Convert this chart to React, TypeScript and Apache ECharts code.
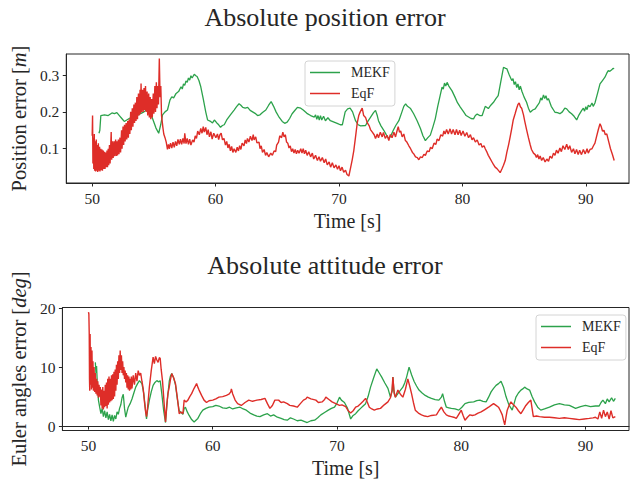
import React, { useEffect, useRef } from "react";
import * as echarts from "echarts";

const xTicks = [50, 60, 70, 80, 90];
const posTicks = [0.1, 0.2, 0.3];
const attTicks = [0, 10, 20];
const seriesNames = ["MEKF", "EqF"];

const posMEKF: [number, number][] = [
  [50.55,0.142],[50.62,0.15],[50.7,0.19],[51.0,0.192],[51.3,0.19],[51.6,0.197],[51.8,0.195],[52.0,0.198],[52.2,0.19],[52.4,0.182],[52.6,0.174],[52.8,0.178],[53.0,0.182],[53.3,0.188],[53.6,0.19],[53.96,0.196],[54.2,0.2],[54.37,0.205],[54.6,0.198],[54.8,0.19],[55.0,0.172],[55.17,0.156],[55.39,0.142],[55.55,0.165],[55.7,0.192],[55.9,0.2],[56.1,0.205],[56.3,0.232],[56.45,0.241],[56.6,0.238],[56.8,0.25],[57.0,0.255],[57.2,0.268],[57.3,0.262],[57.4,0.276],[57.5,0.272],[57.6,0.284],[57.7,0.28],[57.8,0.292],[57.9,0.286],[58.0,0.298],[58.1,0.292],[58.27,0.302],[58.4,0.298],[58.5,0.296],[58.65,0.285],[58.8,0.268],[59.0,0.235],[59.2,0.2],[59.35,0.178],[59.55,0.175],[59.75,0.17],[59.9,0.178],[60.1,0.17],[60.25,0.165],[60.4,0.158],[60.55,0.163],[60.7,0.165],[60.9,0.178],[61.2,0.192],[61.5,0.205],[61.7,0.214],[61.9,0.222],[62.05,0.218],[62.2,0.212],[62.4,0.21],[62.6,0.212],[62.8,0.204],[63.0,0.2],[63.2,0.196],[63.4,0.19],[63.6,0.192],[63.8,0.198],[64.07,0.205],[64.3,0.218],[64.5,0.228],[64.7,0.215],[64.9,0.2],[65.1,0.188],[65.4,0.174],[65.6,0.169],[65.8,0.172],[66.0,0.182],[66.2,0.195],[66.4,0.203],[66.63,0.212],[66.9,0.21],[67.1,0.205],[67.4,0.196],[67.7,0.19],[68.0,0.186],[68.1,0.192],[68.2,0.18],[68.3,0.19],[68.4,0.178],[68.5,0.19],[68.6,0.178],[68.75,0.188],[68.9,0.176],[69.1,0.184],[69.3,0.176],[69.6,0.172],[69.9,0.168],[70.1,0.165],[70.27,0.165],[70.5,0.2],[70.7,0.208],[70.9,0.21],[71.1,0.2],[71.34,0.176],[71.55,0.165],[71.75,0.162],[72.15,0.163],[72.35,0.175],[72.55,0.185],[72.8,0.198],[72.96,0.204],[73.1,0.19],[73.2,0.176],[73.4,0.162],[73.63,0.15],[73.85,0.137],[74.04,0.127],[74.2,0.135],[74.4,0.15],[74.6,0.163],[74.85,0.176],[75.1,0.2],[75.25,0.215],[75.4,0.222],[75.55,0.215],[75.8,0.209],[76.05,0.195],[76.33,0.176],[76.6,0.155],[76.8,0.135],[77.0,0.122],[77.2,0.13],[77.4,0.137],[77.6,0.158],[77.8,0.181],[78.0,0.215],[78.2,0.245],[78.35,0.267],[78.45,0.262],[78.55,0.278],[78.65,0.27],[78.76,0.28],[78.9,0.27],[79.16,0.257],[79.4,0.24],[79.6,0.225],[79.83,0.213],[80.1,0.2],[80.3,0.19],[80.5,0.186],[80.7,0.182],[80.9,0.181],[81.05,0.19],[81.2,0.194],[81.4,0.19],[81.6,0.19],[81.85,0.215],[82.1,0.209],[82.3,0.218],[82.52,0.226],[82.7,0.235],[82.9,0.244],[83.1,0.28],[83.33,0.321],[83.5,0.318],[83.6,0.317],[83.8,0.3],[84.0,0.285],[84.1,0.29],[84.2,0.274],[84.3,0.282],[84.4,0.266],[84.5,0.276],[84.6,0.26],[84.7,0.27],[84.82,0.256],[85.0,0.24],[85.2,0.226],[85.35,0.21],[85.5,0.199],[85.7,0.205],[85.9,0.208],[86.1,0.218],[86.25,0.226],[86.35,0.238],[86.45,0.232],[86.57,0.246],[86.67,0.236],[86.77,0.244],[86.87,0.232],[86.97,0.236],[87.2,0.215],[87.5,0.199],[87.7,0.198],[87.9,0.195],[88.1,0.2],[88.3,0.21],[88.45,0.208],[88.65,0.2],[88.85,0.195],[89.05,0.188],[89.26,0.178],[89.45,0.192],[89.67,0.204],[89.8,0.21],[89.9,0.202],[90.0,0.214],[90.1,0.206],[90.2,0.218],[90.34,0.214],[90.5,0.224],[90.6,0.215],[90.74,0.224],[90.95,0.25],[91.15,0.276],[91.35,0.285],[91.55,0.294],[91.7,0.305],[91.82,0.312],[91.95,0.31],[92.1,0.314],[92.2,0.318],[92.3,0.317]
];

const posEqF: [number, number][] = [
  [50.0,0.135],[50.03,0.19],[50.06,0.06],[50.1,0.13],[50.13,0.045],[50.17,0.14],[50.2,0.04],[50.25,0.12],[50.28,0.038],[50.33,0.125],[50.36,0.04],[50.42,0.11],[50.45,0.037],[50.5,0.115],[50.54,0.04],[50.6,0.105],[50.63,0.038],[50.7,0.1],[50.73,0.042],[50.8,0.098],[50.83,0.04],[50.9,0.095],[50.94,0.045],[51.0,0.092],[51.04,0.045],[51.1,0.09],[51.14,0.05],[51.2,0.095],[51.24,0.05],[51.3,0.1],[51.34,0.055],[51.4,0.11],[51.45,0.06],[51.54,0.145],[51.58,0.07],[51.65,0.12],[51.7,0.075],[51.78,0.12],[51.82,0.08],[51.9,0.125],[51.95,0.08],[52.0,0.12],[52.05,0.082],[52.12,0.125],[52.17,0.085],[52.25,0.13],[52.3,0.09],[52.38,0.15],[52.42,0.1],[52.5,0.16],[52.55,0.11],[52.62,0.165],[52.67,0.12],[52.75,0.17],[52.8,0.125],[52.88,0.175],[52.93,0.13],[53.0,0.18],[53.05,0.14],[53.12,0.2],[53.17,0.15],[53.25,0.21],[53.3,0.16],[53.38,0.22],[53.43,0.17],[53.5,0.225],[53.55,0.175],[53.62,0.24],[53.67,0.18],[53.75,0.25],[53.8,0.19],[53.88,0.26],[53.92,0.195],[53.96,0.277],[54.0,0.2],[54.08,0.26],[54.13,0.2],[54.2,0.265],[54.25,0.205],[54.32,0.27],[54.37,0.2],[54.45,0.255],[54.5,0.19],[54.58,0.25],[54.63,0.185],[54.7,0.24],[54.75,0.18],[54.82,0.235],[54.87,0.185],[54.95,0.25],[55.0,0.195],[55.08,0.27],[55.13,0.2],[55.2,0.28],[55.25,0.21],[55.32,0.27],[55.37,0.22],[55.44,0.345],[55.5,0.24],[55.56,0.27],[55.62,0.19],[55.72,0.16],[55.8,0.14],[55.9,0.13],[56.0,0.118],[56.1,0.098],[56.18,0.112],[56.25,0.1],[56.35,0.115],[56.45,0.102],[56.55,0.118],[56.65,0.104],[56.75,0.12],[56.85,0.108],[56.95,0.125],[57.06,0.112],[57.15,0.126],[57.25,0.112],[57.35,0.128],[57.45,0.114],[57.5,0.142],[57.6,0.114],[57.7,0.128],[57.8,0.112],[57.9,0.126],[58.0,0.11],[58.14,0.124],[58.25,0.118],[58.35,0.135],[58.45,0.128],[58.55,0.148],[58.68,0.138],[58.8,0.155],[58.9,0.142],[59.0,0.16],[59.08,0.145],[59.2,0.158],[59.3,0.138],[59.4,0.152],[59.5,0.132],[59.62,0.146],[59.72,0.126],[59.85,0.142],[60.02,0.13],[60.15,0.14],[60.25,0.125],[60.35,0.138],[60.45,0.142],[60.56,0.124],[60.68,0.128],[60.8,0.11],[60.9,0.12],[61.0,0.102],[61.1,0.112],[61.2,0.094],[61.3,0.106],[61.4,0.09],[61.5,0.1],[61.64,0.09],[61.75,0.104],[61.85,0.094],[61.95,0.108],[62.05,0.098],[62.15,0.115],[62.3,0.108],[62.4,0.124],[62.5,0.114],[62.58,0.128],[62.7,0.118],[62.82,0.134],[62.95,0.122],[63.05,0.138],[63.12,0.124],[63.25,0.132],[63.35,0.116],[63.52,0.118],[63.6,0.1],[63.7,0.108],[63.8,0.09],[63.93,0.098],[64.05,0.082],[64.15,0.09],[64.3,0.078],[64.47,0.088],[64.6,0.082],[64.74,0.094],[64.87,0.092],[64.95,0.11],[65.1,0.118],[65.2,0.135],[65.35,0.13],[65.45,0.145],[65.55,0.132],[65.65,0.138],[65.75,0.118],[65.85,0.115],[65.95,0.102],[66.05,0.108],[66.15,0.092],[66.25,0.1],[66.35,0.088],[66.45,0.098],[66.55,0.086],[66.65,0.096],[66.76,0.088],[66.9,0.1],[67.0,0.088],[67.1,0.1],[67.2,0.086],[67.3,0.096],[67.42,0.082],[67.55,0.092],[67.7,0.078],[67.84,0.088],[67.95,0.072],[68.1,0.082],[68.25,0.068],[68.38,0.078],[68.5,0.066],[68.65,0.076],[68.8,0.062],[68.92,0.072],[69.05,0.056],[69.2,0.064],[69.32,0.05],[69.46,0.062],[69.6,0.048],[69.75,0.056],[69.88,0.044],[70.0,0.054],[70.12,0.04],[70.25,0.05],[70.38,0.036],[70.53,0.042],[70.65,0.03],[70.8,0.026],[70.95,0.05],[71.07,0.07],[71.2,0.095],[71.35,0.135],[71.48,0.17],[71.6,0.19],[71.72,0.2],[71.88,0.21],[72.0,0.19],[72.15,0.185],[72.3,0.17],[72.45,0.162],[72.55,0.152],[72.7,0.145],[72.85,0.138],[72.96,0.128],[73.1,0.14],[73.2,0.13],[73.35,0.145],[73.5,0.132],[73.6,0.144],[73.75,0.128],[73.9,0.136],[74.04,0.122],[74.15,0.138],[74.3,0.13],[74.45,0.145],[74.58,0.132],[74.7,0.148],[74.8,0.16],[74.9,0.145],[75.0,0.148],[75.12,0.132],[75.25,0.14],[75.38,0.122],[75.5,0.118],[75.66,0.108],[75.8,0.1],[75.95,0.09],[76.06,0.086],[76.2,0.078],[76.35,0.076],[76.47,0.07],[76.6,0.078],[76.75,0.076],[76.88,0.085],[77.0,0.082],[77.15,0.094],[77.3,0.092],[77.42,0.104],[77.55,0.1],[77.7,0.115],[77.85,0.112],[77.95,0.126],[78.1,0.122],[78.25,0.138],[78.4,0.134],[78.5,0.148],[78.6,0.14],[78.72,0.152],[78.85,0.14],[79.0,0.154],[79.12,0.14],[79.25,0.152],[79.4,0.138],[79.52,0.152],[79.65,0.138],[79.78,0.15],[79.9,0.136],[80.05,0.148],[80.2,0.134],[80.35,0.144],[80.5,0.13],[80.65,0.138],[80.78,0.124],[80.9,0.13],[81.05,0.118],[81.2,0.124],[81.35,0.11],[81.5,0.114],[81.6,0.104],[81.75,0.108],[81.85,0.1],[82.0,0.09],[82.1,0.082],[82.25,0.073],[82.4,0.064],[82.5,0.058],[82.65,0.05],[82.8,0.046],[82.95,0.04],[83.06,0.035],[83.2,0.045],[83.33,0.055],[83.47,0.068],[83.6,0.09],[83.75,0.112],[83.87,0.132],[84.0,0.155],[84.12,0.178],[84.27,0.195],[84.4,0.21],[84.5,0.22],[84.6,0.224],[84.7,0.214],[84.8,0.21],[84.95,0.192],[85.05,0.175],[85.2,0.152],[85.35,0.13],[85.5,0.11],[85.6,0.098],[85.76,0.088],[85.9,0.084],[86.0,0.076],[86.1,0.084],[86.2,0.072],[86.3,0.08],[86.42,0.068],[86.55,0.076],[86.7,0.064],[86.84,0.072],[86.98,0.066],[87.1,0.08],[87.25,0.074],[87.38,0.088],[87.5,0.082],[87.62,0.096],[87.75,0.088],[87.9,0.102],[88.02,0.092],[88.15,0.108],[88.3,0.098],[88.45,0.112],[88.58,0.098],[88.7,0.108],[88.85,0.09],[89.0,0.1],[89.12,0.086],[89.25,0.098],[89.38,0.084],[89.5,0.096],[89.65,0.084],[89.8,0.098],[89.95,0.086],[90.1,0.1],[90.2,0.088],[90.34,0.098],[90.5,0.1],[90.62,0.108],[90.74,0.115],[90.85,0.13],[91.0,0.15],[91.15,0.168],[91.25,0.16],[91.35,0.148],[91.47,0.15],[91.58,0.138],[91.7,0.14],[91.85,0.12],[92.0,0.1],[92.15,0.085],[92.3,0.068]
];

const attMEKF: [number, number][] = [
  [50.55,10.8],[50.6,9.0],[50.65,10.2],[50.7,7.7],[50.75,6.5],[50.8,4.4],[50.9,3.2],[51.0,2.1],[51.1,3.0],[51.2,1.6],[51.3,2.6],[51.4,1.4],[51.5,2.4],[51.6,1.1],[51.7,2.0],[51.8,0.9],[51.9,1.9],[52.0,0.8],[52.1,1.8],[52.2,1.2],[52.3,2.4],[52.4,2.0],[52.5,3.0],[52.6,3.6],[52.7,4.8],[52.8,5.4],[52.9,3.0],[53.0,1.5],[53.1,2.4],[53.2,3.2],[53.35,3.8],[53.5,4.6],[53.65,5.6],[53.8,6.6],[53.95,7.2],[54.1,7.7],[54.3,7.2],[54.45,5.5],[54.6,2.5],[54.67,1.2],[54.75,2.6],[54.9,4.4],[55.05,5.8],[55.2,6.9],[55.35,7.4],[55.5,7.7],[55.65,7.5],[55.77,7.7],[55.9,5.5],[56.05,2.6],[56.2,0.6],[56.35,4.5],[56.5,7.6],[56.6,8.5],[56.7,8.9],[56.85,8.2],[57.0,7.0],[57.15,4.6],[57.3,2.6],[57.45,2.3],[57.6,2.0],[57.7,3.0],[57.8,3.2],[57.95,2.4],[58.1,1.8],[58.3,1.1],[58.5,0.7],[58.65,1.0],[58.8,1.3],[59.0,2.1],[59.2,2.7],[59.45,3.0],[59.7,3.2],[60.0,3.3],[60.25,3.5],[60.5,3.4],[60.8,3.1],[61.1,3.0],[61.35,3.2],[61.6,2.9],[61.9,3.1],[62.2,3.2],[62.45,2.9],[62.7,2.7],[63.0,2.2],[63.3,1.9],[63.55,1.7],[63.8,1.6],[64.1,1.9],[64.4,2.1],[64.65,1.7],[64.9,1.9],[65.2,1.5],[65.5,1.3],[65.75,1.1],[66.0,1.0],[66.25,1.4],[66.5,1.2],[66.8,0.9],[67.1,1.0],[67.35,0.8],[67.6,0.6],[67.9,0.9],[68.2,1.0],[68.45,1.4],[68.7,1.9],[69.0,2.3],[69.3,2.7],[69.55,3.0],[69.8,3.2],[70.0,3.9],[70.2,4.9],[70.35,4.4],[70.6,4.0],[70.85,3.0],[71.1,1.2],[71.3,1.8],[71.5,2.1],[71.7,2.6],[71.9,3.0],[72.1,3.4],[72.3,3.8],[72.5,5.0],[72.7,6.6],[72.95,8.2],[73.2,9.7],[73.4,9.0],[73.6,8.3],[73.85,7.3],[74.1,6.4],[74.3,4.9],[74.45,6.0],[74.5,8.3],[74.58,6.0],[74.7,4.9],[75.0,5.8],[75.3,6.6],[75.45,7.3],[75.6,8.3],[75.8,10.0],[76.0,8.7],[76.2,7.6],[76.4,6.8],[76.6,6.1],[76.85,5.6],[77.1,5.2],[77.35,4.9],[77.6,4.7],[77.9,4.5],[78.2,4.4],[78.4,4.9],[78.5,5.5],[78.65,4.2],[78.8,3.2],[79.0,3.1],[79.2,3.0],[79.5,2.9],[79.8,2.7],[80.05,3.2],[80.3,3.8],[80.6,4.0],[81.0,4.1],[81.25,4.3],[81.5,4.4],[81.75,4.2],[82.0,4.1],[82.2,4.9],[82.4,5.8],[82.6,6.4],[82.8,6.9],[83.0,7.2],[83.2,7.6],[83.4,6.6],[83.6,5.0],[83.8,3.8],[83.95,3.2],[84.1,2.7],[84.25,3.8],[84.4,4.9],[84.6,5.6],[84.8,6.1],[84.95,6.3],[85.1,6.6],[85.3,6.3],[85.5,6.1],[85.7,5.0],[85.9,4.1],[86.15,3.2],[86.4,2.7],[86.7,2.9],[87.1,3.2],[87.5,3.6],[87.9,3.8],[88.3,3.6],[88.7,3.5],[89.0,3.2],[89.2,3.0],[89.6,3.3],[90.0,3.5],[90.4,3.3],[90.8,3.4],[91.1,3.4],[91.25,4.0],[91.4,4.4],[91.6,3.8],[91.75,4.6],[91.9,4.1],[92.1,4.8],[92.25,4.2],[92.4,4.7]
];

const attEqF: [number, number][] = [
  [50.0,19.3],[50.03,19.0],[50.06,15.6],[50.08,8.0],[50.1,6.0],[50.13,15.6],[50.16,7.0],[50.2,13.4],[50.24,6.2],[50.28,12.8],[50.32,6.5],[50.36,11.0],[50.4,6.0],[50.45,10.0],[50.5,5.8],[50.55,9.0],[50.6,5.5],[50.65,8.0],[50.7,5.2],[50.75,7.6],[50.8,4.8],[50.85,7.0],[50.9,5.0],[50.95,6.6],[51.0,3.5],[51.05,6.2],[51.1,3.0],[51.15,6.6],[51.2,2.8],[51.25,6.0],[51.3,3.2],[51.35,7.0],[51.4,3.4],[51.45,7.4],[51.5,3.0],[51.55,8.0],[51.6,3.6],[51.65,8.4],[51.7,4.0],[51.75,8.0],[51.8,4.2],[51.85,8.6],[51.9,4.4],[51.95,8.8],[52.0,4.6],[52.05,9.2],[52.1,5.0],[52.15,9.6],[52.2,6.0],[52.25,10.4],[52.3,7.0],[52.35,11.0],[52.4,8.0],[52.45,12.0],[52.5,9.0],[52.55,12.8],[52.6,9.5],[52.65,12.0],[52.7,9.0],[52.75,11.0],[52.8,8.6],[52.85,10.0],[52.9,8.0],[52.95,9.4],[53.0,7.4],[53.05,9.0],[53.1,6.5],[53.15,8.6],[53.2,6.2],[53.25,8.4],[53.3,6.0],[53.35,8.0],[53.4,6.2],[53.45,8.4],[53.5,6.4],[53.6,8.6],[53.7,7.0],[53.8,9.0],[53.9,7.6],[54.0,9.4],[54.1,8.6],[54.2,9.0],[54.3,7.6],[54.4,6.4],[54.5,4.2],[54.6,2.4],[54.67,1.6],[54.75,3.0],[54.9,6.6],[55.05,9.4],[55.2,11.7],[55.3,10.6],[55.4,11.8],[55.5,11.2],[55.6,10.8],[55.7,11.6],[55.77,11.5],[55.85,9.6],[55.96,7.6],[56.1,3.5],[56.2,0.7],[56.3,3.6],[56.4,5.6],[56.5,6.6],[56.6,7.9],[56.7,8.9],[56.85,8.2],[57.0,7.2],[57.15,4.8],[57.3,2.1],[57.45,2.4],[57.6,2.1],[57.7,4.4],[57.85,4.1],[58.0,4.4],[58.15,5.0],[58.3,5.5],[58.5,6.4],[58.7,7.2],[58.8,6.6],[58.9,6.1],[59.1,5.2],[59.3,4.4],[59.5,4.0],[59.7,4.3],[60.0,4.4],[60.25,4.6],[60.5,4.9],[60.8,5.0],[61.1,5.2],[61.3,5.4],[61.45,5.8],[61.5,6.3],[61.6,5.5],[61.8,4.4],[62.0,3.8],[62.3,3.5],[62.6,4.0],[62.9,4.4],[63.2,4.2],[63.55,4.4],[63.9,4.5],[64.2,4.7],[64.4,3.8],[64.6,3.0],[64.8,3.5],[65.0,4.4],[65.3,4.4],[65.5,4.0],[65.7,4.1],[66.0,3.8],[66.2,3.5],[66.5,3.4],[66.8,3.2],[67.05,3.8],[67.3,4.4],[67.5,4.6],[67.6,4.9],[67.9,4.6],[68.3,4.4],[68.5,4.0],[68.8,4.1],[69.0,4.5],[69.1,4.9],[69.35,4.5],[69.6,4.1],[69.9,3.8],[70.2,3.5],[70.4,3.6],[70.7,3.3],[70.9,2.6],[71.1,2.2],[71.3,2.6],[71.5,3.2],[71.7,3.4],[71.9,3.8],[72.1,4.2],[72.3,4.7],[72.45,4.0],[72.6,3.2],[72.8,2.9],[73.0,2.7],[73.25,2.9],[73.5,3.0],[73.8,3.6],[74.1,4.1],[74.3,4.8],[74.42,6.0],[74.5,8.3],[74.6,5.5],[74.7,4.9],[74.9,6.1],[75.1,5.4],[75.3,4.9],[75.5,6.2],[75.7,8.0],[75.85,6.8],[76.0,5.5],[76.15,4.0],[76.3,2.7],[76.55,2.2],[76.8,1.9],[77.05,1.7],[77.3,1.6],[77.6,1.8],[78.0,1.9],[78.2,2.6],[78.4,3.2],[78.6,2.4],[78.8,1.9],[79.0,1.7],[79.2,1.6],[79.4,1.5],[79.6,1.3],[79.8,2.0],[80.0,2.7],[80.15,1.8],[80.3,1.0],[80.5,1.5],[80.7,1.9],[80.9,1.8],[81.1,1.9],[81.35,2.2],[81.6,2.4],[81.9,2.8],[82.2,3.2],[82.4,3.5],[82.6,3.8],[82.8,3.5],[83.0,3.2],[83.15,2.6],[83.3,1.9],[83.4,1.0],[83.5,0.2],[83.6,1.5],[83.7,2.7],[83.85,3.5],[84.0,4.1],[84.2,3.6],[84.4,3.2],[84.6,2.6],[84.8,2.1],[85.0,2.8],[85.2,3.5],[85.4,4.0],[85.6,4.4],[85.7,3.0],[85.8,1.6],[86.05,1.7],[86.3,1.6],[86.7,1.5],[87.1,1.5],[87.5,1.4],[87.9,1.3],[88.3,1.4],[88.7,1.3],[89.1,1.2],[89.5,1.1],[89.9,1.2],[90.3,1.3],[90.6,1.4],[90.8,1.5],[91.0,1.2],[91.15,2.4],[91.3,1.3],[91.45,2.7],[91.6,1.6],[91.75,2.4],[91.9,1.2],[92.05,2.6],[92.2,1.4],[92.4,1.6]
];

const GREEN = "#2ca24b";
const RED = "#de2d28";
const INK = "#262626";
const FONT = "'Liberation Serif', 'DejaVu Serif', serif";

function xAxisFor(gridIndex: number, nameGap: number) {
  return {
    gridIndex,
    type: "value",
    min: 47.9,
    max: 93.5,
    name: "Time [s]",
    nameLocation: "middle",
    nameGap,
    nameTextStyle: { fontFamily: FONT, fontSize: 20, color: INK },
    axisLine: { show: true, lineStyle: { color: INK, width: 1 } },
    axisTick: { show: true, length: 3.5, inside: false, customValues: xTicks, lineStyle: { color: INK } },
    axisLabel: { customValues: xTicks, margin: 7, fontFamily: FONT, fontSize: 15.5, color: INK },
    splitLine: { show: false },
  };
}

function legendFor(left: number, top: number) {
  return {
    data: seriesNames,
    left,
    top,
    orient: "vertical",
    selectedMode: false,
    icon: "rect",
    itemWidth: 30,
    itemHeight: 1.5,
    itemGap: 6,
    padding: [4, 5, 5, 5],
    borderColor: "#d4d4d4",
    borderWidth: 1,
    borderRadius: 3,
    backgroundColor: "rgba(255,255,255,0.85)",
    textStyle: { fontFamily: FONT, fontSize: 14, color: INK, lineHeight: 15, padding: [0, 0, 0, 6] },
  };
}

export default function App() {
  const ref = useRef<HTMLDivElement>(null);
  useEffect(() => {
    document.body.style.margin = "0";
    if (!ref.current) return;
    const chart = echarts.init(ref.current, undefined, { renderer: "svg" });
    const lineSeries = (name: string, data: [number, number][], idx: number, color: string, width: number) => ({
      name,
      type: "line",
      xAxisIndex: idx,
      yAxisIndex: idx,
      data,
      showSymbol: false,
      symbol: "none",
      lineStyle: { width, color },
      itemStyle: { color },
      clip: true,
    });
    chart.setOption({
      animation: false,
      backgroundColor: "#ffffff",
      grid: [
        { left: 65, right: 8, top: 54, height: 129, show: true, borderColor: INK, borderWidth: 1, backgroundColor: "transparent" },
        { left: 60.5, right: 8, top: 307.5, height: 123, show: true, borderColor: INK, borderWidth: 1, backgroundColor: "transparent" },
      ],
      xAxis: [xAxisFor(0, 28), xAxisFor(1, 27)],
      yAxis: [
        {
          gridIndex: 0,
          type: "value",
          min: 0.007,
          max: 0.357,
          name: "Position error [{i|m}]",
          nameLocation: "middle",
          nameRotate: 90,
          nameGap: 37,
          nameTextStyle: { fontFamily: FONT, fontSize: 20.5, color: INK, rich: { i: { fontFamily: FONT, fontSize: 20.5, fontStyle: "italic", color: INK } } },
          axisLine: { show: true, lineStyle: { color: INK, width: 1 } },
          axisTick: { show: true, length: 3.5, customValues: posTicks, lineStyle: { color: INK } },
          axisLabel: { customValues: posTicks, margin: 7, fontFamily: FONT, fontSize: 15.5, color: INK, formatter: (v: number) => v.toFixed(1) },
          splitLine: { show: false },
        },
        {
          gridIndex: 1,
          type: "value",
          min: -0.75,
          max: 20.1,
          name: "Euler angles error [{i|deg}]",
          nameLocation: "middle",
          nameRotate: 90,
          nameGap: 32,
          nameTextStyle: { fontFamily: FONT, fontSize: 20.5, color: INK, rich: { i: { fontFamily: FONT, fontSize: 20.5, fontStyle: "italic", color: INK } } },
          axisLine: { show: true, lineStyle: { color: INK, width: 1 } },
          axisTick: { show: true, length: 3.5, customValues: attTicks, lineStyle: { color: INK } },
          axisLabel: { customValues: attTicks, margin: 7, fontFamily: FONT, fontSize: 15.5, color: INK },
          splitLine: { show: false },
        },
      ],
      legend: [legendFor(305, 61), legendFor(536, 315)],
      graphic: [
        { type: "text", x: 325, y: 17, style: { text: "Absolute position error", fontFamily: FONT, fontSize: 26, fill: INK, textAlign: "center", textVerticalAlign: "middle" } },
        { type: "text", x: 325, y: 265, style: { text: "Absolute attitude error", fontFamily: FONT, fontSize: 26, fill: INK, textAlign: "center", textVerticalAlign: "middle" } },
      ],
      series: [
        lineSeries("MEKF", posMEKF, 0, GREEN, 1.3),
        lineSeries("EqF", posEqF, 0, RED, 1.4),
        lineSeries("MEKF", attMEKF, 1, GREEN, 1.3),
        lineSeries("EqF", attEqF, 1, RED, 1.4),
      ],
    });
    return () => chart.dispose();
  }, []);
  return <div ref={ref} style={{ width: 637, height: 487 }} />;
}
